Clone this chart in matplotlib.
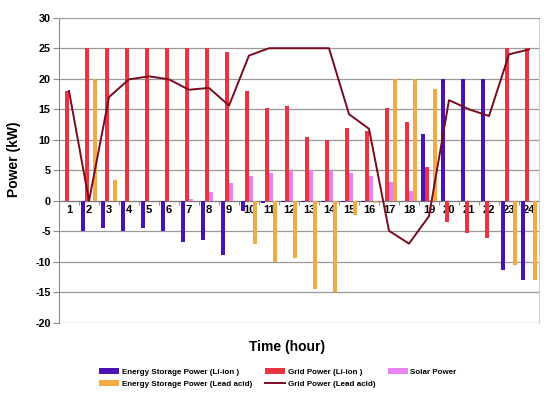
import matplotlib
matplotlib.use("Agg")
import matplotlib.pyplot as plt
import numpy as np

plt.rcParams['font.family'] = ['Liberation Sans', 'DejaVu Sans']

hours = list(range(1, 25))
storage_li = [0, -5.0, -4.5, -5.0, -4.5, -5.0, -6.8, -6.4, -8.8, -1.7, -0.4, -0.2,
              -0.15, -0.15, -0.15, -0.15, 0, -0.1, 11.0, 20, 20, 20, -11.4, -12.9]
grid_li = [18.0, 25, 25, 25, 25, 25, 25, 25, 24.4, 18.0, 15.2, 15.6,
           10.5, 10.0, 12.0, 11.4, 15.2, 13.0, 5.6, -3.4, -5.2, -6.0, 25, 25]
solar = [0, 0, 0, 0, 0, 0, 0.3, 1.4, 2.9, 4.1, 4.6, 4.95,
         5.0, 4.9, 4.6, 4.0, 3.05, 1.6, 0.1, 0, 0, 0, 0, 0]
storage_lead = [0, 20, 3.4, 0, 0, 0, 0, 0, 0, -7.1, -10.0, -9.4,
                -14.5, -15.0, -2.3, -0.3, 20, 20, 18.4, 0, 0, 0, -10.5, -12.9]
grid_lead = [18.0, 0, 17.0, 19.9, 20.4, 19.9, 18.2, 18.5, 15.6, 23.8, 25, 25,
             25, 25, 14.2, 11.8, -4.9, -7.0, -2.5, 16.5, 15.0, 13.9, 24.0, 24.8]
yticks = [-20, -15, -10, -5, 0, 5, 10, 15, 20, 25, 30]

c_blue = '#4a12b2'
c_red = '#eb3342'
c_pink = '#e883f2'
c_orange = '#f2aa45'
c_line = '#7a0a1e'

fig = plt.figure(figsize=(5.5, 3.93), dpi=100)
ax = fig.add_axes([59/550, 1-323/393, 480/550, (323-17.7)/393])

x = np.array(hours, dtype=float)
w = 0.17
b1 = ax.bar(x - 0.3, storage_li, w, color=c_blue, zorder=3, label='Energy Storage Power (Li-ion )')
b2 = ax.bar(x - 0.1, grid_li, w, color=c_red, zorder=3, label='Grid Power (Li-ion )')
b3 = ax.bar(x + 0.1, solar, w, color=c_pink, zorder=3, label='Solar Power')
b4 = ax.bar(x + 0.3, storage_lead, w, color=c_orange, zorder=3, label='Energy Storage Power (Lead acid)')
l1, = ax.plot(x, grid_lead, color=c_line, lw=1.4, zorder=4, label='Grid Power (Lead acid)')

ax.set_xlim(0.5, 24.5)
ax.set_ylim(-20, 30)
ax.set_yticks(yticks)
ax.set_yticklabels([str(v) for v in yticks], fontsize=7.8, fontweight='bold')
ax.yaxis.grid(True, color='#9a9a9a', lw=0.9, zorder=0)
ax.set_axisbelow(True)

ax.spines['bottom'].set_position(('data', 0))
ax.spines['bottom'].set_color('#7a7a7a')
ax.spines['bottom'].set_zorder(2)
ax.spines['left'].set_color('#8a8a8a')
ax.spines['top'].set_color('#a0a0a0')
ax.spines['right'].set_color('#cfcfcf')

ax.set_xticks(hours)
ax.set_xticklabels([str(h) for h in hours], fontsize=8, fontweight='bold')
ax.set_xticks(np.arange(0.5, 25, 1), minor=True)
ax.tick_params(axis='x', which='major', length=0, pad=3)
ax.tick_params(axis='x', which='minor', length=3, color='#7a7a7a', direction='out')
ax.tick_params(axis='y', length=4, color='#8a8a8a', pad=2)

fig.text(287/550, 1-347/393, 'Time (hour)', ha='center', va='center', fontsize=10, fontweight='bold')
fig.text(14/550, 1-159/393, 'Power (kW)', ha='center', va='center', rotation=90, fontsize=10, fontweight='bold')

handles = [b1, b4, b2, l1, b3]
labels = [h.get_label() for h in handles]
fig.legend(handles, labels, loc='center', bbox_to_anchor=(278/550, 1-378/393), ncol=3,
           frameon=False, prop={'size': 5.8, 'weight': 'bold'}, handlelength=2.5, handleheight=0.7,
           handletextpad=0.3, columnspacing=1.6, labelspacing=0.55, borderpad=0)

fig.savefig('out.png', dpi=100)
